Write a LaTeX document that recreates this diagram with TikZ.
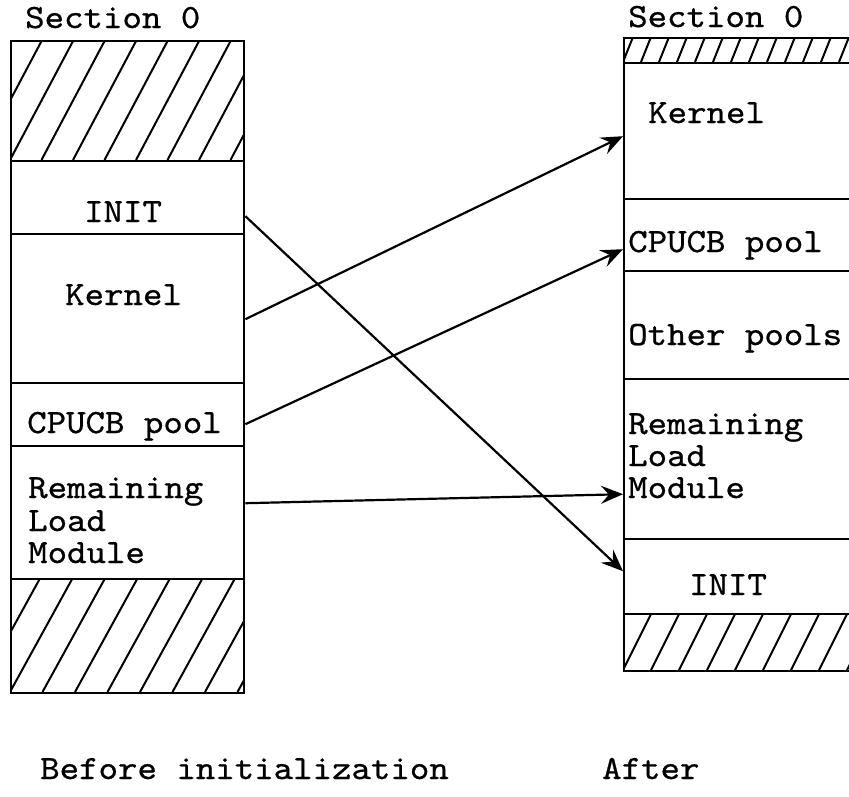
\documentclass[tikz,border=0pt]{standalone}
\usepackage{fontspec}
\setmonofont{lmmono10-regular}[Extension=.otf, FakeStretch=1.09, FakeBold=0.7]
\usetikzlibrary{arrows.meta}
\newcommand\myhatch[6]{% x1,y1,x2,y2,spacing,slope
  \begin{scope}
    \clip (#1,#2) rectangle (#3,#4);
    \foreach \i in {-12,...,20} {
      \draw[hatchline] ({#1+\i*#5},#4) -- ++({#6*(#4-#2)},{-(#4-#2)});
    }
  \end{scope}}
\begin{document}
\begin{tikzpicture}[x=1pt,y=-1pt,
  sect/.style={draw, line width=2.4pt, inner sep=0pt, anchor=north west},
  lbl/.style={anchor=base west, inner sep=0pt, font=\ttfamily\fontsize{34}{34}\selectfont},
  clbl/.style={anchor=base, inner sep=0pt, font=\ttfamily\fontsize{34}{34}\selectfont},
  conn/.style={line width=2.2pt, -{Stealth[length=22pt,width=18pt,inset=8pt]}},
  hatchline/.style={line width=2pt}]
\useasboundingbox (0,0) rectangle (849,796);
\clip (0,0) rectangle (849,796);
\fill[white] (0,0) rectangle (849,796);

% hatching
\myhatch{10}{40}{243}{160}{31.5}{0.53}
\myhatch{10}{578}{243}{692}{32.5}{0.55}
\myhatch{623}{37}{880}{62}{18}{0.4}
\myhatch{623}{613}{880}{670}{28}{0.5}

% left column
\node[sect, minimum width=233pt, minimum height=120pt] (lhtop) at (10,40) {};
\node[sect, minimum width=233pt, minimum height=73pt]  (linit) at (10,160) {};
\node[sect, minimum width=233pt, minimum height=149pt] (lkern) at (10,233) {};
\node[sect, minimum width=233pt, minimum height=63pt]  (lcpu)  at (10,382) {};
\node[sect, minimum width=233pt, minimum height=133pt] (lrem)  at (10,445) {};
\node[sect, minimum width=233pt, minimum height=114pt] (lhbot) at (10,578) {};

% right column
\node[sect, minimum width=257pt, minimum height=25pt]  (rhtop) at (623,37) {};
\node[sect, minimum width=257pt, minimum height=136pt] (rkern) at (623,62) {};
\node[sect, minimum width=257pt, minimum height=72pt]  (rcpu)  at (623,198) {};
\node[sect, minimum width=257pt, minimum height=108pt] (roth)  at (623,270) {};
\node[sect, minimum width=257pt, minimum height=160pt] (rrem)  at (623,378) {};
\node[sect, minimum width=257pt, minimum height=75pt]  (rinit) at (623,538) {};
\node[sect, minimum width=257pt, minimum height=57pt]  (rhbot) at (623,613) {};

% labels left
\node[lbl] (lsec) at (25,28) {Section 0};
\node[clbl] (tlinit) at (123,222) {INIT};
\node[lbl] (tlkern) at (65,305) {Kernel};
\node[lbl] (tlcpu) at (27,433) {CPUCB pool};
\node[lbl] (tlrem1) at (28,498) {Remaining};
\node[lbl] (tlrem2) at (28,531) {Load};
\node[lbl] (tlrem3) at (28,563) {Module};

% labels right
\node[lbl] (rsec) at (628,27) {Section 0};
\node[lbl] (trkern) at (648,123) {Kernel};
\node[lbl] (trcpu) at (628,252) {CPUCB pool};
\node[lbl] (troth) at (628,345) {Other pools};
\node[lbl] (trrem1) at (628,434) {Remaining};
\node[lbl] (trrem2) at (628,466) {Load};
\node[lbl] (trrem3) at (628,498) {Module};
\node[clbl] (trinit) at (728,595) {INIT};

% captions
\node[lbl] (cbefore) at (40,779) {Before initialization};
\node[lbl] (cafter) at (602,779) {After};

% connectors
\draw[conn] ([yshift=-18.5pt]linit.east) -- ([yshift=5.5pt]rinit.west);
\draw[conn] ([yshift=-10.5pt]lkern.east) -- ([yshift=-5pt]rkern.west);
\draw[conn] ([yshift=-9.5pt]lcpu.east) -- ([yshift=-14pt]rcpu.west);
\draw[conn] ([yshift=9.5pt]lrem.east) -- ([yshift=-35pt]rrem.west);
\end{tikzpicture}
\end{document}
